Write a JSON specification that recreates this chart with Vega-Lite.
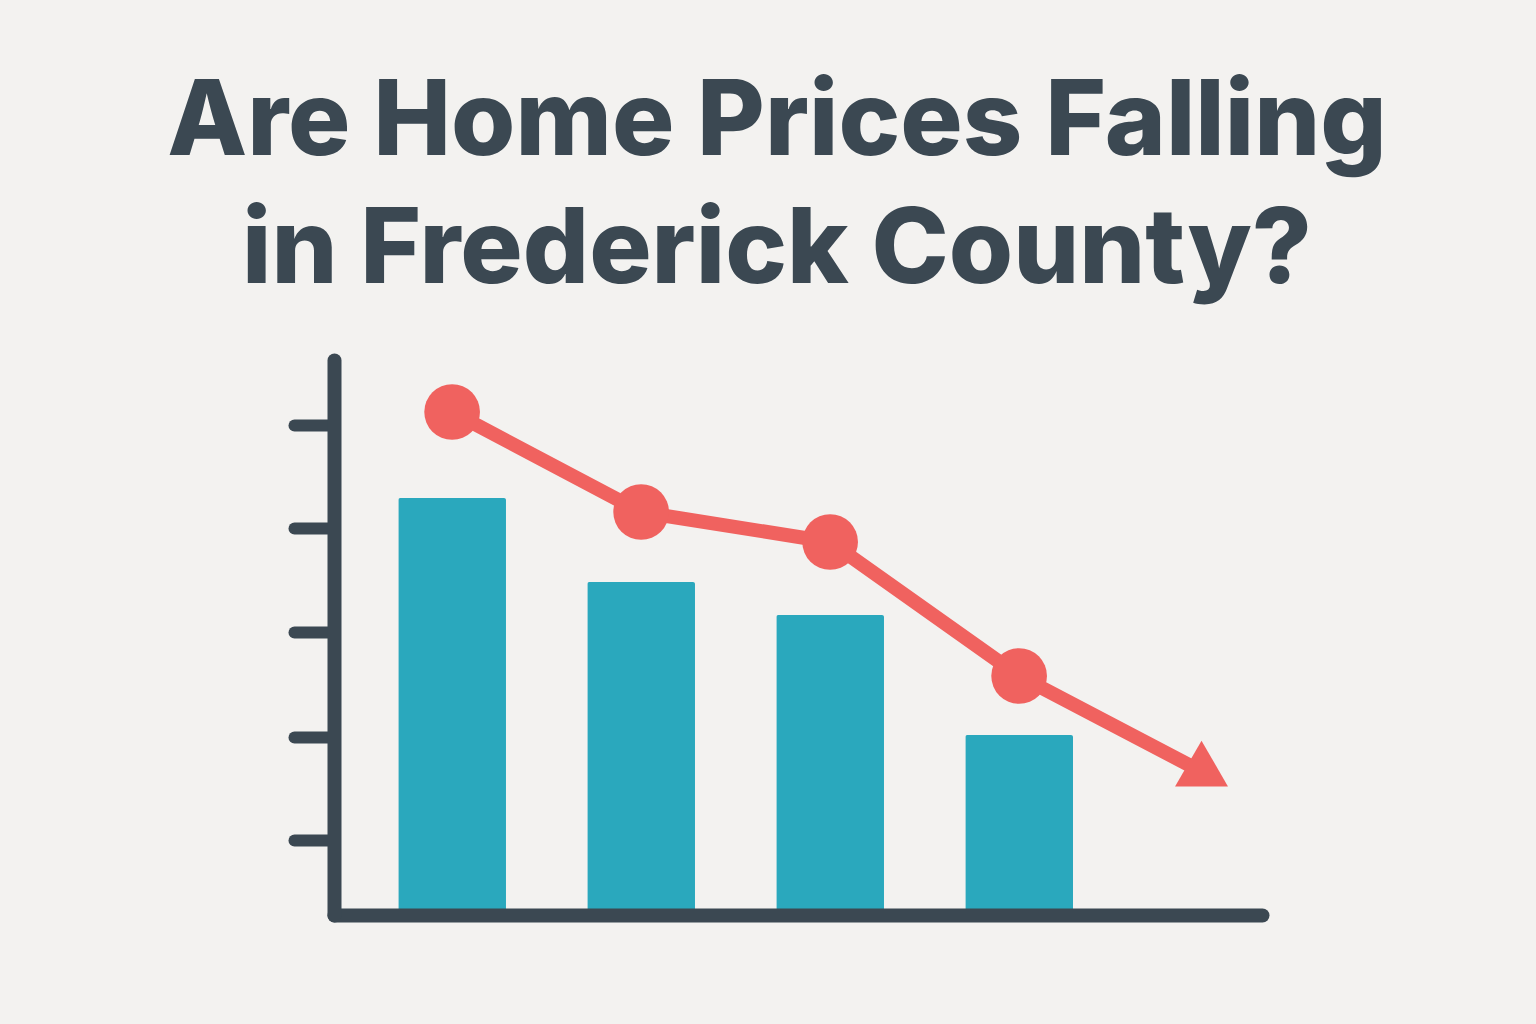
{
  "$schema": "https://vega.github.io/schema/vega-lite/v6.json",
  "width": 928,
  "height": 555,
  "autosize": {"type": "none"},
  "padding": {"left": 334, "top": 360, "right": 274, "bottom": 109},
  "background": "#f3f2f0",
  "config": {"view": {"stroke": null}},
  "title": {
    "text": ["Are Home Prices Falling", "in Frederick County?"],
    "font": "Inter",
    "fontSize": 104,
    "fontWeight": 800,
    "color": "#3b4852",
    "anchor": "middle",
    "offset": 55,
    "dx": -21,
    "lineHeight": 128
  },
  "datasets": {
    "bars": [
      {"period": "P1", "value": 417},
      {"period": "P2", "value": 333},
      {"period": "P3", "value": 300},
      {"period": "P4", "value": 180}
    ],
    "trend": [
      {"period": "P1", "value": 503, "kind": "dot"},
      {"period": "P2", "value": 403, "kind": "dot"},
      {"period": "P3", "value": 373, "kind": "dot"},
      {"period": "P4", "value": 239, "kind": "dot"},
      {"period": "P5", "value": 140, "kind": "arrow"}
    ]
  },
  "layer": [
    {
      "data": {"name": "bars"},
      "mark": {"type": "bar", "color": "#2aa8bd", "cornerRadiusTopLeft": 2, "cornerRadiusTopRight": 2},
      "encoding": {
        "x": {
          "field": "period", "type": "ordinal",
          "scale": {"type": "band", "domain": ["P1", "P2", "P3", "P4", "P5"], "paddingInner": 0.43, "paddingOuter": 0.17, "align": 1},
          "axis": {"labels": false, "ticks": false, "title": null, "domainWidth": 14, "domainColor": "#3b4852", "domainCap": "round", "grid": false, "zindex": 1}
        },
        "y": {
          "field": "value", "type": "quantitative",
          "scale": {"domain": [0, 555], "nice": false, "zero": true},
          "axis": {"values": [75, 178, 283, 387, 490], "labels": false, "title": null, "ticks": true, "tickSize": 40, "tickWidth": 12, "tickColor": "#3b4852", "tickCap": "round", "domainWidth": 14, "domainColor": "#3b4852", "domainCap": "round", "grid": false, "zindex": 1}
        }
      }
    },
    {
      "data": {"name": "trend"},
      "mark": {"type": "line", "color": "#f0625f", "strokeWidth": 14, "strokeCap": "round", "strokeJoin": "round"},
      "encoding": {
        "x": {"field": "period", "type": "ordinal"},
        "y": {"field": "value", "type": "quantitative"}
      }
    },
    {
      "data": {"name": "trend"},
      "transform": [{"filter": "datum.kind == 'dot'"}],
      "mark": {"type": "point", "filled": true, "color": "#f0625f", "opacity": 1, "size": 3100, "shape": "circle"},
      "encoding": {
        "x": {"field": "period", "type": "ordinal"},
        "y": {"field": "value", "type": "quantitative"}
      }
    },
    {
      "data": {"name": "trend"},
      "transform": [{"filter": "datum.kind == 'arrow'"}],
      "mark": {"type": "point", "filled": true, "color": "#f0625f", "opacity": 1, "size": 2800, "shape": "triangle-right", "angle": 30},
      "encoding": {
        "x": {"field": "period", "type": "ordinal"},
        "y": {"field": "value", "type": "quantitative"}
      }
    }
  ]
}
